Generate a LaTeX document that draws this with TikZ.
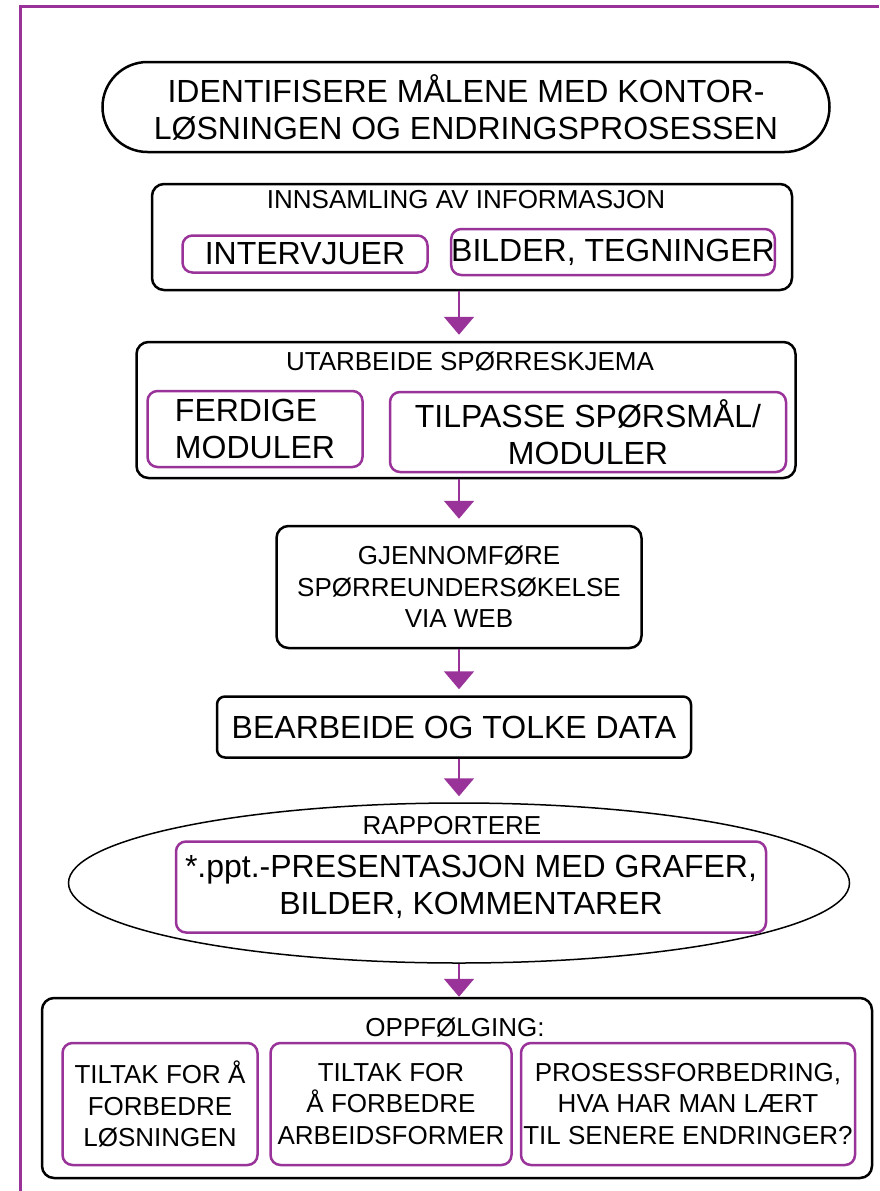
\documentclass[tikz,border=0pt]{standalone}
\usepackage{fontspec}
\setmainfont{Liberation Sans}
\usepackage{tikz}
\usetikzlibrary{arrows.meta}
\usetikzlibrary{shapes.geometric}

\definecolor{lilla}{RGB}{153,51,153}
\newcommand{\stor}{\fontsize{32}{37}\selectfont}
\newcommand{\liten}{\fontsize{26}{31.5}\selectfont}

\begin{document}
\begin{tikzpicture}[x=1pt,y=-1pt,
        boks/.style={draw,line width=2.5pt,rounded corners=12pt,inner sep=0pt},
        del/.style={draw=lilla,line width=2.5pt,rounded corners=10pt,inner sep=0pt,align=center},
        pil/.style={lilla,line width=2pt,shorten >=6pt,-{Triangle[width=30pt,length=18pt]}}]
        \useasboundingbox (0,0) rectangle (879,1191);
        \draw[lilla,line width=3pt] (20,1191) -- (20,6) -- (879,6);
        \coordinate (ax) at (459,0);
        \node[boks,rounded corners=45pt,minimum width=727pt,minimum height=90pt,align=center,font=\stor] (Mal) at (466,107) {IDENTIFISERE MÅLENE MED KONTOR-\\LØSNINGEN OG ENDRINGSPROSESSEN};
        \node[boks,minimum width=640pt,minimum height=106pt] (Inn) at (472,237) {};
        \node[font=\liten] (Innt) at (466,200) {INNSAMLING AV INFORMASJON};
        \node[del,minimum width=245pt,minimum height=37pt,font=\stor] (Int) at (305,254) {INTERVJUER};
        \node[del,minimum width=323pt,minimum height=46pt,font=\stor] (Bil) at (613,252) {BILDER, TEGNINGER};
        \node[boks,minimum width=659pt,minimum height=136pt] (Utb) at (466,410) {};
        \node[font=\liten] (Utbt) at (470,362) {UTARBEIDE SPØRRESKJEMA};
        \node[del,align=left,minimum width=215pt,minimum height=76pt,font=\stor] (Ferd) at (255,429) {FERDIGE\\MODULER};
        \node[del,minimum width=396pt,minimum height=80pt,font=\stor] (Tilp) at (588,432) {TILPASSE SPØRSMÅL/\\MODULER};
        \node[boks,align=center,minimum width=365pt,minimum height=122pt,font=\liten] (Gjen) at (459,587) {GJENNOMFØRE\\SPØRREUNDERSØKELSE\\VIA WEB};
        \node[boks,rounded corners=8pt,minimum width=474pt,minimum height=61pt,font=\stor] (Bear) at (454,727) {BEARBEIDE OG TOLKE DATA};
        \node[draw,ellipse,line width=1.5pt,inner sep=0pt,minimum width=781pt,minimum height=160pt] (Rapp) at (459,883) {};
        \node[font=\liten] (Rappt) at (452,826) {RAPPORTERE};
        \node[del,minimum width=590pt,minimum height=91pt,font=\stor] (Ppt) at (471,887) {*.ppt.-PRESENTASJON MED GRAFER,\\BILDER, KOMMENTARER};
        \node[boks,minimum width=830pt,minimum height=180pt] (Oppf) at (457,1088) {};
        \node[font=\liten] (Oppft) at (455,1028) {OPPFØLGING:};
        \node[del,minimum width=195pt,minimum height=122pt,font=\liten] (TilA) at (160,1104) {TILTAK FOR Å\\FORBEDRE\\LØSNINGEN};
        \node[del,minimum width=241pt,minimum height=122pt,font=\liten] (TilB) at (391,1104) {TILTAK FOR\\Å FORBEDRE\\ARBEIDSFORMER};
        \node[del,minimum width=334pt,minimum height=122pt,font=\liten] (Pros) at (688,1104) {PROSESSFORBEDRING,\\HVA HAR MAN LÆRT\\TIL SENERE ENDRINGER?};
        \draw (Inn.south -| ax) edge[pil] (Utb.north -| ax);
        \draw (Utb.south -| ax) edge[pil] (Gjen.north -| ax);
        \draw (Gjen.south -| ax) edge[pil] (Bear.north -| ax);
        \draw (Bear.south -| ax) edge[pil] (Rapp.north -| ax);
        \draw (Rapp.south -| ax) edge[pil,shorten >=0pt] (Oppf.north -| ax);
    \end{tikzpicture}
\end{document}
